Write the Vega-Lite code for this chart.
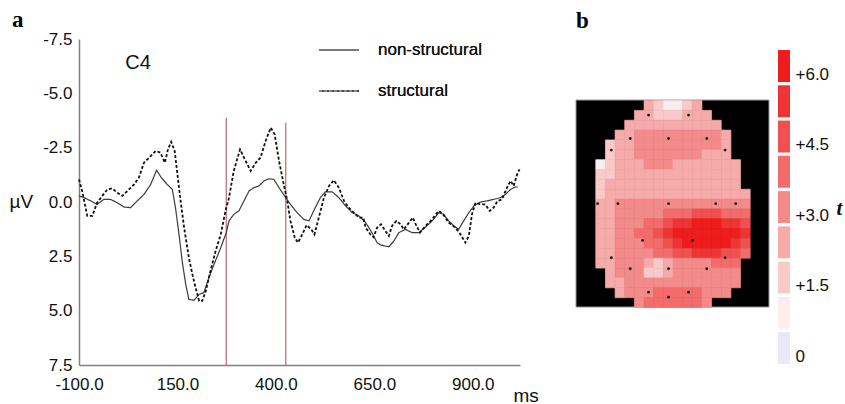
{
"$schema":"https://vega.github.io/schema/vega-lite/v6.json",
"background":"white",
"padding":{"left":9,"top":9,"right":2,"bottom":2},
"bounds":"flush",
"spacing":9,
"config":{"view":{"stroke":null},"font":"Liberation Sans","axis":{"labelFont":"Liberation Sans","titleFont":"Liberation Sans","labelColor":"#111","titleColor":"#111"}},
"resolve":{"scale":{"x":"independent","y":"independent","color":"independent"}},
"hconcat":[
{
"width":441,"height":326,
"title":{"text":"a","anchor":"start","frame":"group","dx":-67,"offset":-21,"baseline":"alphabetic","font":"Liberation Serif","fontSize":23,"fontWeight":"bold","color":"#000"},
"layer":[
{"data":{"values":[{"ms":274,"top":-3.88},{"ms":425,"top":-3.65}]},
"mark":{"type":"rule","color":"#c8707a","strokeWidth":1.3},
"encoding":{"x":{"field":"ms","type":"quantitative"},"y":{"field":"top","type":"quantitative"},"y2":{"datum":7.5}}},
{"data":{"values":[
{"ms":-100,"uv":-0.28,"cond":"non-structural"},{"ms":-87,"uv":-0.2,"cond":"non-structural"},{"ms":-70,"uv":-0.05,"cond":"non-structural"},{"ms":-54,"uv":0.11,"cond":"non-structural"},{"ms":-37,"uv":-0.12,"cond":"non-structural"},{"ms":-20,"uv":-0.12,"cond":"non-structural"},{"ms":-3,"uv":0.03,"cond":"non-structural"},{"ms":14,"uv":0.23,"cond":"non-structural"},{"ms":31,"uv":0.26,"cond":"non-structural"},{"ms":48,"uv":-0.05,"cond":"non-structural"},{"ms":65,"uv":-0.35,"cond":"non-structural"},{"ms":82,"uv":-0.81,"cond":"non-structural"},{"ms":97,"uv":-1.46,"cond":"non-structural"},{"ms":109,"uv":-1.12,"cond":"non-structural"},{"ms":124,"uv":-0.81,"cond":"non-structural"},{"ms":137,"uv":-0.58,"cond":"non-structural"},{"ms":145,"uv":0.26,"cond":"non-structural"},{"ms":154,"uv":1.49,"cond":"non-structural"},{"ms":162,"uv":2.71,"cond":"non-structural"},{"ms":171,"uv":3.79,"cond":"non-structural"},{"ms":179,"uv":4.48,"cond":"non-structural"},{"ms":192,"uv":4.52,"cond":"non-structural"},{"ms":205,"uv":4.25,"cond":"non-structural"},{"ms":217,"uv":4.17,"cond":"non-structural"},{"ms":230,"uv":3.48,"cond":"non-structural"},{"ms":243,"uv":2.87,"cond":"non-structural"},{"ms":260,"uv":2.1,"cond":"non-structural"},{"ms":274,"uv":1.41,"cond":"non-structural"},{"ms":281,"uv":0.87,"cond":"non-structural"},{"ms":293,"uv":0.57,"cond":"non-structural"},{"ms":306,"uv":0.41,"cond":"non-structural"},{"ms":319,"uv":-0.05,"cond":"non-structural"},{"ms":332,"uv":-0.51,"cond":"non-structural"},{"ms":344,"uv":-0.66,"cond":"non-structural"},{"ms":357,"uv":-0.74,"cond":"non-structural"},{"ms":370,"uv":-0.97,"cond":"non-structural"},{"ms":382,"uv":-1.07,"cond":"non-structural"},{"ms":395,"uv":-1.04,"cond":"non-structural"},{"ms":408,"uv":-0.66,"cond":"non-structural"},{"ms":425,"uv":-0.2,"cond":"non-structural"},{"ms":437,"uv":0.11,"cond":"non-structural"},{"ms":454,"uv":0.49,"cond":"non-structural"},{"ms":471,"uv":0.8,"cond":"non-structural"},{"ms":484,"uv":0.87,"cond":"non-structural"},{"ms":496,"uv":0.41,"cond":"non-structural"},{"ms":513,"uv":-0.2,"cond":"non-structural"},{"ms":526,"uv":-0.47,"cond":"non-structural"},{"ms":543,"uv":-0.47,"cond":"non-structural"},{"ms":560,"uv":-0.2,"cond":"non-structural"},{"ms":577,"uv":0.18,"cond":"non-structural"},{"ms":594,"uv":0.49,"cond":"non-structural"},{"ms":611,"uv":0.64,"cond":"non-structural"},{"ms":628,"uv":0.95,"cond":"non-structural"},{"ms":644,"uv":1.41,"cond":"non-structural"},{"ms":657,"uv":1.87,"cond":"non-structural"},{"ms":666,"uv":1.98,"cond":"non-structural"},{"ms":687,"uv":2.06,"cond":"non-structural"},{"ms":700,"uv":1.79,"cond":"non-structural"},{"ms":712,"uv":1.41,"cond":"non-structural"},{"ms":729,"uv":1.26,"cond":"non-structural"},{"ms":746,"uv":1.41,"cond":"non-structural"},{"ms":763,"uv":1.41,"cond":"non-structural"},{"ms":780,"uv":1.15,"cond":"non-structural"},{"ms":797,"uv":0.87,"cond":"non-structural"},{"ms":814,"uv":0.49,"cond":"non-structural"},{"ms":826,"uv":0.57,"cond":"non-structural"},{"ms":839,"uv":0.87,"cond":"non-structural"},{"ms":852,"uv":1.1,"cond":"non-structural"},{"ms":864,"uv":1.26,"cond":"non-structural"},{"ms":877,"uv":0.87,"cond":"non-structural"},{"ms":890,"uv":0.49,"cond":"non-structural"},{"ms":903,"uv":0.18,"cond":"non-structural"},{"ms":920,"uv":0.0,"cond":"non-structural"},{"ms":936,"uv":-0.05,"cond":"non-structural"},{"ms":953,"uv":-0.12,"cond":"non-structural"},{"ms":970,"uv":-0.2,"cond":"non-structural"},{"ms":983,"uv":-0.35,"cond":"non-structural"},{"ms":996,"uv":-0.58,"cond":"non-structural"},{"ms":1008,"uv":-0.69,"cond":"non-structural"},{"ms":1015,"uv":-0.69,"cond":"non-structural"},
{"ms":-100,"uv":-1.04,"cond":"structural"},{"ms":-92,"uv":-0.51,"cond":"structural"},{"ms":-79,"uv":0.64,"cond":"structural"},{"ms":-66,"uv":0.64,"cond":"structural"},{"ms":-54,"uv":0.03,"cond":"structural"},{"ms":-41,"uv":-0.28,"cond":"structural"},{"ms":-28,"uv":-0.58,"cond":"structural"},{"ms":-16,"uv":-0.63,"cond":"structural"},{"ms":-3,"uv":-0.43,"cond":"structural"},{"ms":10,"uv":-0.28,"cond":"structural"},{"ms":23,"uv":-0.51,"cond":"structural"},{"ms":40,"uv":-0.81,"cond":"structural"},{"ms":52,"uv":-1.12,"cond":"structural"},{"ms":65,"uv":-1.81,"cond":"structural"},{"ms":78,"uv":-2.04,"cond":"structural"},{"ms":95,"uv":-2.35,"cond":"structural"},{"ms":107,"uv":-2.27,"cond":"structural"},{"ms":118,"uv":-1.81,"cond":"structural"},{"ms":126,"uv":-2.42,"cond":"structural"},{"ms":134,"uv":-2.77,"cond":"structural"},{"ms":143,"uv":-2.35,"cond":"structural"},{"ms":150,"uv":-1.27,"cond":"structural"},{"ms":158,"uv":-0.05,"cond":"structural"},{"ms":167,"uv":1.18,"cond":"structural"},{"ms":179,"uv":2.56,"cond":"structural"},{"ms":188,"uv":3.33,"cond":"structural"},{"ms":196,"uv":3.94,"cond":"structural"},{"ms":205,"uv":4.55,"cond":"structural"},{"ms":213,"uv":4.55,"cond":"structural"},{"ms":222,"uv":4.09,"cond":"structural"},{"ms":234,"uv":3.17,"cond":"structural"},{"ms":247,"uv":2.25,"cond":"structural"},{"ms":260,"uv":1.49,"cond":"structural"},{"ms":272,"uv":0.41,"cond":"structural"},{"ms":281,"uv":-0.2,"cond":"structural"},{"ms":293,"uv":-1.43,"cond":"structural"},{"ms":309,"uv":-2.42,"cond":"structural"},{"ms":321,"uv":-1.96,"cond":"structural"},{"ms":336,"uv":-1.43,"cond":"structural"},{"ms":349,"uv":-1.81,"cond":"structural"},{"ms":361,"uv":-2.04,"cond":"structural"},{"ms":374,"uv":-2.81,"cond":"structural"},{"ms":387,"uv":-3.42,"cond":"structural"},{"ms":397,"uv":-3.11,"cond":"structural"},{"ms":408,"uv":-1.89,"cond":"structural"},{"ms":420,"uv":-0.81,"cond":"structural"},{"ms":429,"uv":-0.05,"cond":"structural"},{"ms":437,"uv":0.87,"cond":"structural"},{"ms":448,"uv":1.64,"cond":"structural"},{"ms":456,"uv":1.87,"cond":"structural"},{"ms":467,"uv":1.49,"cond":"structural"},{"ms":478,"uv":1.06,"cond":"structural"},{"ms":490,"uv":1.26,"cond":"structural"},{"ms":498,"uv":1.49,"cond":"structural"},{"ms":509,"uv":0.72,"cond":"structural"},{"ms":522,"uv":-0.2,"cond":"structural"},{"ms":535,"uv":-0.74,"cond":"structural"},{"ms":547,"uv":-1.0,"cond":"structural"},{"ms":560,"uv":-0.66,"cond":"structural"},{"ms":573,"uv":-0.05,"cond":"structural"},{"ms":585,"uv":0.26,"cond":"structural"},{"ms":598,"uv":0.49,"cond":"structural"},{"ms":611,"uv":0.72,"cond":"structural"},{"ms":622,"uv":0.72,"cond":"structural"},{"ms":628,"uv":1.18,"cond":"structural"},{"ms":640,"uv":1.49,"cond":"structural"},{"ms":648,"uv":1.62,"cond":"structural"},{"ms":657,"uv":1.18,"cond":"structural"},{"ms":667,"uv":1.03,"cond":"structural"},{"ms":678,"uv":1.33,"cond":"structural"},{"ms":687,"uv":1.56,"cond":"structural"},{"ms":695,"uv":1.1,"cond":"structural"},{"ms":706,"uv":0.87,"cond":"structural"},{"ms":717,"uv":1.03,"cond":"structural"},{"ms":725,"uv":1.26,"cond":"structural"},{"ms":738,"uv":0.95,"cond":"structural"},{"ms":748,"uv":0.72,"cond":"structural"},{"ms":757,"uv":1.1,"cond":"structural"},{"ms":766,"uv":1.41,"cond":"structural"},{"ms":780,"uv":1.1,"cond":"structural"},{"ms":793,"uv":0.87,"cond":"structural"},{"ms":805,"uv":0.6,"cond":"structural"},{"ms":814,"uv":0.41,"cond":"structural"},{"ms":825,"uv":0.57,"cond":"structural"},{"ms":839,"uv":0.95,"cond":"structural"},{"ms":856,"uv":1.18,"cond":"structural"},{"ms":869,"uv":1.49,"cond":"structural"},{"ms":881,"uv":1.87,"cond":"structural"},{"ms":890,"uv":1.56,"cond":"structural"},{"ms":898,"uv":0.57,"cond":"structural"},{"ms":907,"uv":0.03,"cond":"structural"},{"ms":920,"uv":0.11,"cond":"structural"},{"ms":932,"uv":0.11,"cond":"structural"},{"ms":943,"uv":0.41,"cond":"structural"},{"ms":953,"uv":0.26,"cond":"structural"},{"ms":963,"uv":-0.05,"cond":"structural"},{"ms":974,"uv":-0.12,"cond":"structural"},{"ms":987,"uv":-0.66,"cond":"structural"},{"ms":996,"uv":-0.97,"cond":"structural"},{"ms":1004,"uv":-0.74,"cond":"structural"},{"ms":1014,"uv":-1.35,"cond":"structural"},{"ms":1019,"uv":-1.5,"cond":"structural"}
]},
"mark":{"type":"line"},
"encoding":{
"x":{"field":"ms","type":"quantitative","scale":{"domain":[-100,1020],"nice":false,"zero":false},
"axis":{"values":[-100,150,400,650,900],"labelExpr":"datum.value < 0 ? '-' + format(-datum.value, '.1f') : format(datum.value, '.1f')","title":"ms","titleX":434,"titleY":30,"titleAlign":"left","titleBaseline":"middle","titleFontSize":19,"titleFontWeight":"normal","labelFontSize":17,"labelPadding":11,"ticks":false,"grid":false,"domainColor":"#808080","domainWidth":1.5,"labelFlush":false}},
"y":{"field":"uv","type":"quantitative","scale":{"domain":[-7.5,7.5],"reverse":true,"nice":false,"zero":false},
"axis":{"values":[-7.5,-5,-2.5,0,2.5,5,7.5],"labelExpr":"datum.value < 0 ? '-' + format(-datum.value, '.1f') : format(datum.value, '.1f')","title":"µV","titleAngle":0,"titleX":-70,"titleY":162,"titleAlign":"left","titleBaseline":"middle","titleFontSize":19,"titleFontWeight":"normal","labelFontSize":17,"labelPadding":7,"ticks":false,"grid":false,"domainColor":"#808080","domainWidth":1.5}},
"color":{"field":"cond","type":"nominal","scale":{"domain":["non-structural","structural"],"range":["#3c3c3c","#111111"]},
"legend":{"title":null,"orient":"none","legendX":239,"legendY":-10,"padding":0,"symbolType":"stroke","symbolSize":1600,"symbolStrokeWidth":1.5,"labelFontSize":17,"labelOffset":18,"rowPadding":12,"labelFont":"Liberation Sans","labelColor":"#111"}},
"strokeDash":{"field":"cond","type":"nominal","scale":{"domain":["non-structural","structural"],"range":[[1,0],[3,2]]},
"legend":{"title":null,"orient":"none","legendX":239,"legendY":-10,"padding":0,"symbolType":"stroke","symbolSize":1600,"symbolStrokeWidth":1.5,"labelFontSize":17,"labelOffset":18,"rowPadding":12,"labelFont":"Liberation Sans","labelColor":"#111"}},
"strokeWidth":{"field":"cond","type":"nominal","scale":{"domain":["non-structural","structural"],"range":[1.2,1.8]},"legend":null}
}},
{"data":{"values":[{"ms":50,"uv":-6.4,"label":"C4"}]},
"mark":{"type":"text","fontSize":20,"font":"Liberation Sans","color":"#111","align":"center","baseline":"middle"},
"encoding":{"x":{"field":"ms","type":"quantitative"},"y":{"field":"uv","type":"quantitative"},"text":{"field":"label"}}}
]
},
{
"width":240,"height":326,
"title":{"text":"b","anchor":"start","frame":"group","dx":47,"offset":-12,"baseline":"alphabetic","font":"Liberation Serif","fontSize":23,"fontWeight":"bold","color":"#000"},
"layer":[
{"data":{"values":[{"c0":0,"c1":20,"r0":0,"r1":21}]},
"mark":{"type":"rect","color":"black","stroke":"#9a9a9a","strokeWidth":1},
"encoding":{"x":{"field":"c0","type":"quantitative","scale":{"domain":[-4.87,20],"nice":false,"zero":false},"axis":null},"x2":{"field":"c1"},
"y":{"field":"r0","type":"quantitative","scale":{"domain":[-6.19,26.88],"reverse":true,"nice":false,"zero":false},"axis":null},"y2":{"field":"r1"}}},
{"data":{"values":[
{"c":7,"r":0,"v":2.25},{"c":8,"r":0,"v":1.5},{"c":9,"r":0,"v":0.75},{"c":10,"r":0,"v":0.75},{"c":11,"r":0,"v":1.5},{"c":12,"r":0,"v":2.25},
{"c":6,"r":1,"v":2.25},{"c":7,"r":1,"v":2.25},{"c":8,"r":1,"v":1.5},{"c":9,"r":1,"v":1.5},{"c":10,"r":1,"v":1.5},{"c":11,"r":1,"v":2.25},{"c":12,"r":1,"v":2.25},{"c":13,"r":1,"v":2.25},
{"c":5,"r":2,"v":2.25},{"c":6,"r":2,"v":2.25},{"c":7,"r":2,"v":2.25},{"c":8,"r":2,"v":2.25},{"c":9,"r":2,"v":2.25},{"c":10,"r":2,"v":2.25},{"c":11,"r":2,"v":2.25},{"c":12,"r":2,"v":2.25},{"c":13,"r":2,"v":2.25},{"c":14,"r":2,"v":2.25},
{"c":4,"r":3,"v":2.25},{"c":5,"r":3,"v":2.25},{"c":6,"r":3,"v":3},{"c":7,"r":3,"v":3},{"c":8,"r":3,"v":3},{"c":9,"r":3,"v":3},{"c":10,"r":3,"v":3},{"c":11,"r":3,"v":3},{"c":12,"r":3,"v":3},{"c":13,"r":3,"v":3},{"c":14,"r":3,"v":3},{"c":15,"r":3,"v":2.25},
{"c":3,"r":4,"v":1.5},{"c":4,"r":4,"v":2.25},{"c":5,"r":4,"v":2.25},{"c":6,"r":4,"v":3},{"c":7,"r":4,"v":3},{"c":8,"r":4,"v":3},{"c":9,"r":4,"v":3},{"c":10,"r":4,"v":3},{"c":11,"r":4,"v":3},{"c":12,"r":4,"v":3},{"c":13,"r":4,"v":3},{"c":14,"r":4,"v":3},{"c":15,"r":4,"v":2.25},
{"c":3,"r":5,"v":1.5},{"c":4,"r":5,"v":2.25},{"c":5,"r":5,"v":2.25},{"c":6,"r":5,"v":3},{"c":7,"r":5,"v":3},{"c":8,"r":5,"v":3},{"c":9,"r":5,"v":3},{"c":10,"r":5,"v":3},{"c":11,"r":5,"v":3},{"c":12,"r":5,"v":3},{"c":13,"r":5,"v":2.25},{"c":14,"r":5,"v":2.25},{"c":15,"r":5,"v":2.25},
{"c":2,"r":6,"v":0.75},{"c":3,"r":6,"v":1.5},{"c":4,"r":6,"v":2.25},{"c":5,"r":6,"v":2.25},{"c":6,"r":6,"v":2.25},{"c":7,"r":6,"v":3},{"c":8,"r":6,"v":3},{"c":9,"r":6,"v":3},{"c":10,"r":6,"v":2.25},{"c":11,"r":6,"v":2.25},{"c":12,"r":6,"v":2.25},{"c":13,"r":6,"v":2.25},{"c":14,"r":6,"v":2.25},{"c":15,"r":6,"v":2.25},{"c":16,"r":6,"v":2.25},
{"c":2,"r":7,"v":1.5},{"c":3,"r":7,"v":1.5},{"c":4,"r":7,"v":2.25},{"c":5,"r":7,"v":2.25},{"c":6,"r":7,"v":2.25},{"c":7,"r":7,"v":2.25},{"c":8,"r":7,"v":2.25},{"c":9,"r":7,"v":2.25},{"c":10,"r":7,"v":2.25},{"c":11,"r":7,"v":2.25},{"c":12,"r":7,"v":2.25},{"c":13,"r":7,"v":2.25},{"c":14,"r":7,"v":2.25},{"c":15,"r":7,"v":2.25},{"c":16,"r":7,"v":2.25},
{"c":2,"r":8,"v":1.5},{"c":3,"r":8,"v":2.25},{"c":4,"r":8,"v":2.25},{"c":5,"r":8,"v":2.25},{"c":6,"r":8,"v":2.25},{"c":7,"r":8,"v":2.25},{"c":8,"r":8,"v":2.25},{"c":9,"r":8,"v":2.25},{"c":10,"r":8,"v":2.25},{"c":11,"r":8,"v":2.25},{"c":12,"r":8,"v":2.25},{"c":13,"r":8,"v":2.25},{"c":14,"r":8,"v":2.25},{"c":15,"r":8,"v":2.25},{"c":16,"r":8,"v":2.25},
{"c":2,"r":9,"v":1.5},{"c":3,"r":9,"v":2.25},{"c":4,"r":9,"v":2.25},{"c":5,"r":9,"v":2.25},{"c":6,"r":9,"v":2.25},{"c":7,"r":9,"v":2.25},{"c":8,"r":9,"v":2.25},{"c":9,"r":9,"v":2.25},{"c":10,"r":9,"v":2.25},{"c":11,"r":9,"v":2.25},{"c":12,"r":9,"v":2.25},{"c":13,"r":9,"v":2.25},{"c":14,"r":9,"v":2.25},{"c":15,"r":9,"v":2.25},{"c":16,"r":9,"v":2.25},{"c":17,"r":9,"v":2.25},
{"c":2,"r":10,"v":2.25},{"c":3,"r":10,"v":2.25},{"c":4,"r":10,"v":3},{"c":5,"r":10,"v":3},{"c":6,"r":10,"v":3},{"c":7,"r":10,"v":3},{"c":8,"r":10,"v":3},{"c":9,"r":10,"v":3},{"c":10,"r":10,"v":3},{"c":11,"r":10,"v":3},{"c":12,"r":10,"v":3},{"c":13,"r":10,"v":3},{"c":14,"r":10,"v":3},{"c":15,"r":10,"v":3},{"c":16,"r":10,"v":3},{"c":17,"r":10,"v":3},
{"c":2,"r":11,"v":2.25},{"c":3,"r":11,"v":2.25},{"c":4,"r":11,"v":3},{"c":5,"r":11,"v":3},{"c":6,"r":11,"v":3},{"c":7,"r":11,"v":3},{"c":8,"r":11,"v":3},{"c":9,"r":11,"v":3.75},{"c":10,"r":11,"v":3.75},{"c":11,"r":11,"v":3.75},{"c":12,"r":11,"v":4.5},{"c":13,"r":11,"v":4.5},{"c":14,"r":11,"v":4.5},{"c":15,"r":11,"v":3.75},{"c":16,"r":11,"v":3.75},{"c":17,"r":11,"v":3.75},
{"c":2,"r":12,"v":2.25},{"c":3,"r":12,"v":2.25},{"c":4,"r":12,"v":3},{"c":5,"r":12,"v":3},{"c":6,"r":12,"v":3},{"c":7,"r":12,"v":3.75},{"c":8,"r":12,"v":3.75},{"c":9,"r":12,"v":4.5},{"c":10,"r":12,"v":5.25},{"c":11,"r":12,"v":5.25},{"c":12,"r":12,"v":6},{"c":13,"r":12,"v":6},{"c":14,"r":12,"v":6},{"c":15,"r":12,"v":5.25},{"c":16,"r":12,"v":5.25},{"c":17,"r":12,"v":4.5},
{"c":2,"r":13,"v":2.25},{"c":3,"r":13,"v":2.25},{"c":4,"r":13,"v":3},{"c":5,"r":13,"v":3},{"c":6,"r":13,"v":3.75},{"c":7,"r":13,"v":3.75},{"c":8,"r":13,"v":4.5},{"c":9,"r":13,"v":5.25},{"c":10,"r":13,"v":6},{"c":11,"r":13,"v":6},{"c":12,"r":13,"v":6},{"c":13,"r":13,"v":6},{"c":14,"r":13,"v":6},{"c":15,"r":13,"v":6},{"c":16,"r":13,"v":6},{"c":17,"r":13,"v":5.25},
{"c":2,"r":14,"v":2.25},{"c":3,"r":14,"v":2.25},{"c":4,"r":14,"v":3},{"c":5,"r":14,"v":3},{"c":6,"r":14,"v":3},{"c":7,"r":14,"v":3.75},{"c":8,"r":14,"v":3.75},{"c":9,"r":14,"v":4.5},{"c":10,"r":14,"v":5.25},{"c":11,"r":14,"v":6},{"c":12,"r":14,"v":6},{"c":13,"r":14,"v":6},{"c":14,"r":14,"v":6},{"c":15,"r":14,"v":6},{"c":16,"r":14,"v":5.25},{"c":17,"r":14,"v":4.5},
{"c":2,"r":15,"v":2.25},{"c":3,"r":15,"v":2.25},{"c":4,"r":15,"v":3},{"c":5,"r":15,"v":3},{"c":6,"r":15,"v":3},{"c":7,"r":15,"v":3},{"c":8,"r":15,"v":3.75},{"c":9,"r":15,"v":3.75},{"c":10,"r":15,"v":4.5},{"c":11,"r":15,"v":4.5},{"c":12,"r":15,"v":5.25},{"c":13,"r":15,"v":5.25},{"c":14,"r":15,"v":5.25},{"c":15,"r":15,"v":4.5},{"c":16,"r":15,"v":4.5},{"c":17,"r":15,"v":3.75},
{"c":2,"r":16,"v":2.25},{"c":3,"r":16,"v":2.25},{"c":4,"r":16,"v":3},{"c":5,"r":16,"v":3},{"c":6,"r":16,"v":3},{"c":7,"r":16,"v":2.25},{"c":8,"r":16,"v":1.5},{"c":9,"r":16,"v":2.25},{"c":10,"r":16,"v":3},{"c":11,"r":16,"v":3},{"c":12,"r":16,"v":3},{"c":13,"r":16,"v":3},{"c":14,"r":16,"v":3.75},{"c":15,"r":16,"v":3.75},{"c":16,"r":16,"v":3.75},
{"c":3,"r":17,"v":2.25},{"c":4,"r":17,"v":3},{"c":5,"r":17,"v":3},{"c":6,"r":17,"v":3},{"c":7,"r":17,"v":1.5},{"c":8,"r":17,"v":1.5},{"c":9,"r":17,"v":2.25},{"c":10,"r":17,"v":3},{"c":11,"r":17,"v":3},{"c":12,"r":17,"v":3},{"c":13,"r":17,"v":3},{"c":14,"r":17,"v":3},{"c":15,"r":17,"v":3},{"c":16,"r":17,"v":3},
{"c":3,"r":18,"v":2.25},{"c":4,"r":18,"v":2.25},{"c":5,"r":18,"v":3},{"c":6,"r":18,"v":3},{"c":7,"r":18,"v":3},{"c":8,"r":18,"v":3},{"c":9,"r":18,"v":3},{"c":10,"r":18,"v":3},{"c":11,"r":18,"v":3},{"c":12,"r":18,"v":3},{"c":13,"r":18,"v":3},{"c":14,"r":18,"v":3},{"c":15,"r":18,"v":3},{"c":16,"r":18,"v":3},
{"c":4,"r":19,"v":2.25},{"c":5,"r":19,"v":3},{"c":6,"r":19,"v":3},{"c":7,"r":19,"v":3},{"c":8,"r":19,"v":3.75},{"c":9,"r":19,"v":3.75},{"c":10,"r":19,"v":3.75},{"c":11,"r":19,"v":3.75},{"c":12,"r":19,"v":3.75},{"c":13,"r":19,"v":3},{"c":14,"r":19,"v":3},{"c":15,"r":19,"v":3},
{"c":6,"r":20,"v":3},{"c":7,"r":20,"v":3.75},{"c":8,"r":20,"v":3.75},{"c":9,"r":20,"v":3.75},{"c":10,"r":20,"v":3.75},{"c":11,"r":20,"v":3.75},{"c":12,"r":20,"v":3.75},{"c":13,"r":20,"v":3}
]},
"mark":{"type":"rect","binSpacing":0,"strokeWidth":0.7},
"encoding":{"x":{"field":"c","type":"quantitative","bin":{"binned":true,"step":1},"axis":null},
"y":{"field":"r","type":"quantitative","bin":{"binned":true,"step":1},"axis":null},
"color":{"field":"v","type":"quantitative","scale":{"type":"threshold","domain":[0.375,1.125,1.875,2.625,3.375,4.125,4.875,5.625],"range":["#e9e9f7","#fbeded","#f9caca","#f6abab","#f48b8b","#f26c6c","#f05050","#ef3434","#ee1c1c"]},"legend":null},
"stroke":{"field":"v","type":"quantitative","scale":{"type":"threshold","domain":[0.375,1.125,1.875,2.625,3.375,4.125,4.875,5.625],"range":["#e9e9f7","#fbeded","#f9caca","#f6abab","#f48b8b","#f26c6c","#f05050","#ef3434","#ee1c1c"]},"legend":null}}},
{"data":{"values":[{"ex":7.52,"ey":1.53},{"ex":11.66,"ey":1.53},{"ex":5.62,"ey":3.9},{"ex":9.59,"ey":3.9},{"ex":13.55,"ey":3.9},{"ex":3.66,"ey":5.08},{"ex":15.45,"ey":5.08},{"ex":2.24,"ey":10.51},{"ex":4.34,"ey":10.51},{"ex":9.59,"ey":10.51},{"ex":14.48,"ey":10.51},{"ex":16.55,"ey":10.51},{"ex":6.9,"ey":14.24},{"ex":12.07,"ey":14.24},{"ex":3.66,"ey":16.0},{"ex":15.45,"ey":16.0},{"ex":5.62,"ey":17.12},{"ex":9.59,"ey":17.12},{"ex":13.55,"ey":17.12},{"ex":7.52,"ey":19.49},{"ex":11.66,"ey":19.49},{"ex":9.59,"ey":20.0}]},
"mark":{"type":"point","filled":true,"size":8,"color":"#1a1a1a","opacity":1},
"encoding":{"x":{"field":"ex","type":"quantitative"},"y":{"field":"ey","type":"quantitative"}}}
]
},
{
"width":12,"height":326,
"data":{"values":[{"lo":-0.17,"hi":0.51,"v":0},{"lo":0.58,"hi":1.26,"v":0.75},{"lo":1.33,"hi":2.01,"v":1.5},{"lo":2.08,"hi":2.76,"v":2.25},{"lo":2.83,"hi":3.51,"v":3},{"lo":3.58,"hi":4.26,"v":3.75},{"lo":4.33,"hi":5.01,"v":4.5},{"lo":5.08,"hi":5.76,"v":5.25},{"lo":5.83,"hi":6.51,"v":6}]},
"mark":{"type":"rect"},
"encoding":{
"y":{"field":"lo","type":"quantitative","scale":{"domain":[-0.191,6.745],"nice":false,"zero":false},
"axis":{"orient":"right","values":[0,1.5,3,4.5,6],"labelExpr":"datum.value == 0 ? '0' : '+' + format(datum.value, '.1f')","domain":false,"ticks":false,"grid":false,"labelFontSize":17,"labelPadding":5,"title":"t","titleAngle":0,"titleFont":"Liberation Serif","titleFontStyle":"italic","titleFontWeight":"bold","titleFontSize":21,"titleX":49,"titleY":169,"titleAlign":"center","titleBaseline":"middle"}},
"y2":{"field":"hi"},
"color":{"field":"v","type":"quantitative","scale":{"type":"threshold","domain":[0.375,1.125,1.875,2.625,3.375,4.125,4.875,5.625],"range":["#e9e9f7","#fbeded","#f9caca","#f6abab","#f48b8b","#f26c6c","#f05050","#ef3434","#ee1c1c"]},"legend":null}
}
}
]
}
